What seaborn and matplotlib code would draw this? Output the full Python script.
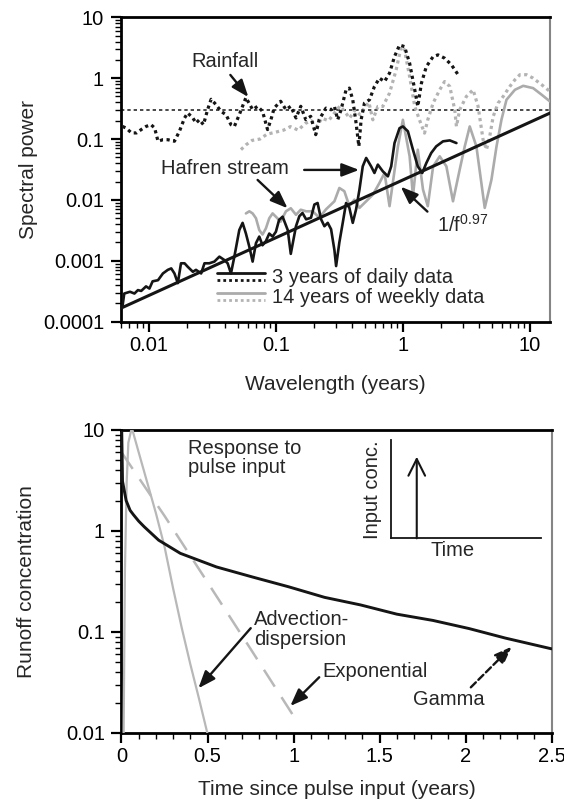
import numpy as np
import pandas as pd
import matplotlib
matplotlib.use("Agg")
import matplotlib.pyplot as plt
import seaborn as sns
from matplotlib.legend_handler import HandlerBase
from matplotlib.lines import Line2D
from matplotlib.ticker import FixedLocator, LogLocator, NullFormatter, MultipleLocator

# ---------------- data : top panel (spectral power vs wavelength) ----------------
rain_daily_wl = [0.0062, 0.0066, 0.0073, 0.0080, 0.0087, 0.0095, 0.0104, 0.0111, 0.0118, 0.0129,
                 0.0141, 0.0159, 0.0174, 0.0191, 0.0202, 0.0222, 0.0235, 0.025, 0.0269, 0.029,
                 0.0309, 0.0338, 0.037, 0.0405, 0.0443, 0.0471, 0.0515, 0.0581, 0.0656, 0.0718,
                 0.0785, 0.086, 0.0914, 0.097, 0.109, 0.12, 0.131, 0.144, 0.157, 0.172,
                 0.188, 0.206, 0.219, 0.248, 0.272, 0.289, 0.307, 0.326, 0.357, 0.379,
                 0.403, 0.428, 0.45, 0.469, 0.498, 0.546, 0.597, 0.654, 0.717, 0.785,
                 0.859, 0.941, 1.03, 1.13, 1.24, 1.31, 1.40, 1.53, 1.73, 1.89,
                 2.13, 2.41, 2.72]
rain_daily_p = [0.161, 0.152, 0.126, 0.126, 0.143, 0.161, 0.172, 0.152, 0.092, 0.0975,
                0.0975, 0.092, 0.134, 0.222, 0.268, 0.222, 0.183, 0.208, 0.172, 0.304,
                0.45, 0.367, 0.285, 0.251, 0.172, 0.161, 0.251, 0.48, 0.304, 0.345,
                0.285, 0.143, 0.208, 0.324, 0.417, 0.304, 0.345, 0.222, 0.345, 0.208,
                0.236, 0.118, 0.208, 0.322, 0.303, 0.343, 0.208, 0.303, 0.644, 0.686,
                0.442, 0.183, 0.076, 0.208, 0.389, 0.442, 0.73, 1.0, 0.88, 1.21,
                2.26, 3.5, 3.3, 1.76, 0.644, 0.343, 0.83, 1.55, 2.26, 2.41,
                2.13, 1.66, 1.14]

rain_weekly_wl = [0.0531, 0.058, 0.065, 0.075, 0.085, 0.1, 0.115, 0.13, 0.15, 0.17,
                  0.19, 0.21, 0.23, 0.26, 0.29, 0.32, 0.35, 0.38, 0.42, 0.46,
                  0.5, 0.54, 0.58, 0.635, 0.695, 0.785, 0.885, 0.97, 1.03, 1.13,
                  1.24, 1.35, 1.48, 1.57, 1.73, 1.95, 2.13, 2.34, 2.56, 2.64,
                  2.8, 3.16, 3.57, 3.91, 4.28, 4.55, 4.83, 5.14, 5.62, 6.16,
                  6.95, 7.62, 8.34, 9.41, 10.6, 12.4, 14.4]
rain_weekly_p = [0.067, 0.08, 0.095, 0.1, 0.12, 0.13, 0.14, 0.16, 0.14, 0.18,
                 0.2, 0.16, 0.22, 0.2, 0.27, 0.35, 0.28, 0.22, 0.3, 0.25,
                 0.33, 0.4, 0.207, 0.343, 0.343, 0.568, 1.37, 3.3, 2.91, 1.06,
                 0.343, 0.207, 0.125, 0.207, 0.389, 0.644, 0.88, 0.73, 0.303, 0.161,
                 0.303, 0.5, 0.644, 0.343, 0.0975, 0.0668, 0.111, 0.235, 0.389, 0.5,
                 0.73, 0.94, 1.14, 1.14, 1.0, 0.778, 0.604]

stream_daily_wl = [0.0062, 0.0064, 0.0071, 0.0077, 0.0082, 0.0087, 0.0095, 0.0101, 0.0107, 0.0118,
                   0.0129, 0.0141, 0.015, 0.0159, 0.0169, 0.0179, 0.0191, 0.0202, 0.0222, 0.0235,
                   0.0258, 0.0274, 0.0299, 0.0328, 0.0359, 0.0393, 0.0417, 0.0443, 0.0471, 0.0515,
                   0.0547, 0.0581, 0.0618, 0.0656, 0.0697, 0.074, 0.0785, 0.0834, 0.0887, 0.0942,
                   0.1, 0.106, 0.113, 0.124, 0.131, 0.144, 0.153, 0.162, 0.173, 0.189,
                   0.201, 0.213, 0.227, 0.241, 0.256, 0.272, 0.289, 0.298, 0.316, 0.336,
                   0.357, 0.379, 0.403, 0.428, 0.455, 0.483, 0.514, 0.562, 0.597, 0.635,
                   0.695, 0.762, 0.809, 0.859, 0.941, 1.0, 1.095, 1.2, 1.31, 1.42,
                   1.53, 1.67, 1.83, 2.07, 2.34, 2.64]
stream_daily_p = [0.00018, 0.00029, 0.00031, 0.00029, 0.00033, 0.00032, 0.00038, 0.00035, 0.00046, 0.00048,
                  0.00062, 0.00071, 0.00075, 0.00062, 0.00043, 0.00091, 0.00091, 0.0008, 0.00066, 0.00071,
                  0.00062, 0.00091, 0.00091, 0.00097, 0.00117, 0.00103, 0.00091, 0.00062, 0.00117, 0.0032,
                  0.0042, 0.0028, 0.0017, 0.00097, 0.00195, 0.0025, 0.0018, 0.0021, 0.0028, 0.0025,
                  0.003, 0.0047, 0.0053, 0.0032, 0.0013, 0.0037, 0.0054, 0.0061, 0.0048, 0.0051,
                  0.0084, 0.0089, 0.0048, 0.0037, 0.0042, 0.0033, 0.0015, 0.00082, 0.002, 0.0042,
                  0.0089, 0.0074, 0.0042, 0.007, 0.0148, 0.0356, 0.0489, 0.0356, 0.0277, 0.038,
                  0.0295, 0.0244, 0.0356, 0.0859, 0.151, 0.161, 0.134, 0.0668, 0.0356, 0.0277,
                  0.0404, 0.0589, 0.0758, 0.0917, 0.095, 0.0859]

stream_weekly_wl = [0.0581, 0.0618, 0.0656, 0.0697, 0.074, 0.0785, 0.0834, 0.0887, 0.0942, 0.1,
                    0.109, 0.12, 0.131, 0.144, 0.157, 0.173, 0.195, 0.22, 0.248, 0.289,
                    0.316, 0.346, 0.379, 0.415, 0.455, 0.514, 0.58, 0.654, 0.717, 0.785,
                    0.914, 1.0, 1.13, 1.2, 1.31, 1.44, 1.57, 1.73, 1.95, 2.2,
                    2.48, 2.8, 3.07, 3.36, 3.79, 4.41, 4.98, 5.46, 5.97, 6.54,
                    7.62, 8.86, 10.6, 12.4, 14.4]
stream_weekly_p = [0.006, 0.0065, 0.006, 0.005, 0.0032, 0.0027, 0.0034, 0.005, 0.006, 0.0053,
                   0.0044, 0.0065, 0.0073, 0.0057, 0.0069, 0.0065, 0.0065, 0.0051, 0.0070, 0.0095,
                   0.0157, 0.0139, 0.0079, 0.0101, 0.0074, 0.0095, 0.0122, 0.019, 0.0277, 0.0079,
                   0.0758, 0.207, 0.052, 0.0115, 0.0668, 0.0148, 0.0079, 0.0356, 0.052, 0.0356,
                   0.0095, 0.0314, 0.0758, 0.161, 0.0758, 0.0074, 0.0215, 0.0758, 0.207, 0.442,
                   0.644, 0.748, 0.686, 0.533, 0.414]

fit_wl = [0.006, 14.4]          # 1/f^0.97 fit line, end points
fit_p = [0.000166, 0.267]
white_noise_level = 0.3

x_ticks_top = [0.01, 0.1, 1, 10]
x_ticklabels_top = ["0.01", "0.1", "1", "10"]
y_ticks_top = [0.0001, 0.001, 0.01, 0.1, 1, 10]
y_ticklabels_top = ["0.0001", "0.001", "0.01", "0.1", "1", "10"]

# ---------------- data : bottom panel (pulse responses) ----------------
gamma_t = [0.0015, 0.006, 0.027, 0.05, 0.069, 0.1, 0.132, 0.216, 0.342, 0.552,
           0.761, 0.971, 1.18, 1.39, 1.6, 1.81, 2.02, 2.23, 2.5]
gamma_c = [9.5, 3.1, 2.0, 1.6, 1.45, 1.25, 1.1, 0.81, 0.6, 0.44,
           0.35, 0.28, 0.22, 0.185, 0.15, 0.13, 0.108, 0.087, 0.068]
exp_t = [0.0, 0.25, 0.5, 0.75, 1.02]
exp_c = [6.0, 1.41, 0.31, 0.068, 0.013]
ade_t = [0.012, 0.02, 0.03, 0.04, 0.06, 0.1, 0.15, 0.2, 0.25, 0.3, 0.35, 0.4, 0.45, 0.5, 0.52]
ade_c = [0.008, 0.4, 3.0, 7.5, 10.5, 6.0, 3.0, 1.5, 0.7, 0.27, 0.11, 0.048, 0.022, 0.0098, 0.0075]

y_ticks_bot = [0.01, 0.1, 1, 10]
y_ticklabels_bot = ["0.01", "0.1", "1", "10"]
x_ticks_bot = [0, 0.5, 1, 1.5, 2, 2.5]
x_ticklabels_bot = ["0", "0.5", "1", "1.5", "2", "2.5"]

pulse_time = 0.17     # inset schematic, axes fraction
pulse_height = 0.83

# ---------------- style ----------------
sns.set_style("ticks")
plt.rcParams["font.family"] = ["Liberation Sans", "DejaVu Sans"]
plt.rcParams["mathtext.fontset"] = "custom"
plt.rcParams["mathtext.rm"] = "Liberation Sans"
plt.rcParams["mathtext.it"] = "Liberation Sans"

FS = 14.5
BLACK = "#151515"
GREY = "#ababab"
GREY_DOT = "#b3b3b3"
GREY_B = "#b8b8b8"
DOT = (0, (1, 1.1))

fig = plt.figure(figsize=(5.64, 8.0), dpi=100)
ax1 = fig.add_axes([0.2140, 0.5979, 0.7612, 0.3805])
ax2 = fig.add_axes([0.2154, 0.0838, 0.7628, 0.3788])


def style_axes(ax):
    for s in ["left", "bottom", "top"]:
        ax.spines[s].set_color("black")
        ax.spines[s].set_linewidth(2.0)
    ax.spines["right"].set_color("#858585")
    ax.spines["right"].set_linewidth(1.5)
    ax.tick_params(which="major", direction="out", length=7, width=1.6,
                   labelsize=FS, pad=3, colors="black")
    ax.tick_params(which="minor", direction="out", length=4, width=1.0, colors="black")
    ax.tick_params(axis="y", which="major", pad=5)
    ax.tick_params(top=False, right=False, which="both")


# ---------------- top panel ----------------
ax1.set_xscale("log")
ax1.set_yscale("log")

ax1.axhline(white_noise_level, color="#2a2a2a", lw=1.2, ls=(0, (2.0, 1.8)), zorder=2)

sns.lineplot(x=rain_weekly_wl, y=rain_weekly_p, ax=ax1, color=GREY_DOT, lw=2.3,
             linestyle=DOT, estimator=None, sort=False, zorder=3)
sns.lineplot(x=rain_daily_wl, y=rain_daily_p, ax=ax1, color=BLACK, lw=2.3,
             linestyle=DOT, estimator=None, sort=False, zorder=4)
sns.lineplot(x=stream_weekly_wl, y=stream_weekly_p, ax=ax1, color=GREY, lw=1.9,
             estimator=None, sort=False, zorder=3)
sns.lineplot(x=stream_daily_wl, y=stream_daily_p, ax=ax1, color=BLACK, lw=1.9,
             estimator=None, sort=False, zorder=5)
sns.lineplot(x=fit_wl, y=fit_p, ax=ax1, color=BLACK, lw=2.2,
             estimator=None, sort=False, zorder=6)

ax1.set_xlim(0.006, 14.4)
ax1.set_ylim(0.0001, 10)
style_axes(ax1)
ax1.xaxis.set_major_locator(FixedLocator(x_ticks_top))
ax1.set_xticklabels(x_ticklabels_top)
ax1.xaxis.set_minor_locator(LogLocator(base=10, subs=np.arange(2, 10)))
ax1.xaxis.set_minor_formatter(NullFormatter())
ax1.yaxis.set_major_locator(FixedLocator(y_ticks_top))
ax1.set_yticklabels(y_ticklabels_top)
ax1.yaxis.set_minor_locator(LogLocator(base=10, subs=np.arange(2, 10)))
ax1.yaxis.set_minor_formatter(NullFormatter())

ax1.set_xlabel("Wavelength (years)", fontsize=FS + 0.5)
ax1.set_ylabel("Spectral power", fontsize=FS + 0.5)
ax1.xaxis.set_label_coords(0.5, -0.175)
ax1.yaxis.set_label_coords(-0.193, 0.5)

arrow_kw = dict(arrowstyle="-|>,head_length=0.65,head_width=0.25", color=BLACK,
                lw=1.7, mutation_scale=16, shrinkA=0, shrinkB=0)

ax1.text(0.040, 1.85, "Rainfall", fontsize=FS, ha="center", va="center")
ax1.annotate("", xy=(0.0607, 0.49), xytext=(0.0438, 1.13), arrowprops=arrow_kw)
ax1.text(0.0397, 0.0332, "Hafren stream", fontsize=FS, ha="center", va="center")
ax1.annotate("", xy=(0.452, 0.0311), xytext=(0.167, 0.0311), arrowprops=arrow_kw)
ax1.annotate("", xy=(0.1236, 0.0073), xytext=(0.0718, 0.0213), arrowprops=arrow_kw)
ax1.text(1.85, 0.0039, r"1/f$^{0.97}$", fontsize=FS, ha="left", va="center")
ax1.annotate("", xy=(0.962, 0.0165), xytext=(1.56, 0.00643), arrowprops=arrow_kw)


class LegendPair:
    def __init__(self, top, bottom):
        self.top = top        # (colour, linestyle)
        self.bottom = bottom


class StackedHandler(HandlerBase):
    def create_artists(self, legend, orig_handle, xdescent, ydescent, width, height,
                       fontsize, trans):
        artists = []
        for (col, ls), frac in ((orig_handle.top, 0.72), (orig_handle.bottom, 0.22)):
            yy = height * frac - ydescent
            ln = Line2D([-xdescent, width - xdescent], [yy, yy], color=col,
                        lw=2.0, linestyle=ls)
            ln.set_transform(trans)
            artists.append(ln)
        return artists


h_daily = LegendPair((BLACK, "-"), (BLACK, DOT))
h_weekly = LegendPair((GREY, "-"), (GREY_DOT, DOT))
leg = ax1.legend([h_daily, h_weekly], ["3 years of daily data", "14 years of weekly data"],
                 handler_map={LegendPair: StackedHandler()}, loc="upper left",
                 bbox_to_anchor=(0.2236, 0.175), frameon=False, fontsize=FS,
                 handlelength=2.4, handleheight=0.7, handletextpad=0.33,
                 labelspacing=0.05, borderpad=0, borderaxespad=0)

# ---------------- bottom panel ----------------
ax2.set_yscale("log")
sns.lineplot(x=ade_t, y=ade_c, ax=ax2, color=GREY_B, lw=1.6, estimator=None, sort=False, zorder=3)
sns.lineplot(x=exp_t, y=exp_c, ax=ax2, color=GREY_B, lw=1.8, linestyle=(0, (8, 5)),
             estimator=None, sort=False, zorder=3)
sns.lineplot(x=gamma_t, y=gamma_c, ax=ax2, color=BLACK, lw=2.1, estimator=None, sort=False, zorder=4)

ax2.set_xlim(0, 2.5)
ax2.set_ylim(0.01, 10)
style_axes(ax2)
ax2.xaxis.set_major_locator(FixedLocator(x_ticks_bot))
ax2.set_xticklabels(x_ticklabels_bot)
ax2.xaxis.set_minor_locator(MultipleLocator(0.1))
ax2.yaxis.set_major_locator(FixedLocator(y_ticks_bot))
ax2.set_yticklabels(y_ticklabels_bot)
ax2.yaxis.set_minor_locator(LogLocator(base=10, subs=np.arange(2, 10)))
ax2.yaxis.set_minor_formatter(NullFormatter())

ax2.set_xlabel("Time since pulse input (years)", fontsize=FS + 0.5)
ax2.set_ylabel("Runoff concentration", fontsize=FS + 0.5)
ax2.xaxis.set_label_coords(0.5, -0.155)
ax2.yaxis.set_label_coords(-0.199, 0.5)

ax2.text(0.384, 5.28, "Response to\npulse input", fontsize=FS, ha="left", va="center",
         linespacing=1.05)
ax2.text(0.77, 0.105, "Advection-\ndispersion", fontsize=FS, ha="left", va="center",
         linespacing=1.05)
ax2.annotate("", xy=(0.447, 0.0277), xytext=(0.751, 0.109), arrowprops=arrow_kw)
ax2.text(1.17, 0.0405, "Exponential", fontsize=FS, ha="left", va="center")
ax2.annotate("", xy=(0.981, 0.0185), xytext=(1.149, 0.0356), arrowprops=arrow_kw)
ax2.text(1.90, 0.0212, "Gamma", fontsize=FS, ha="center", va="center")
gamma_kw = dict(arrow_kw)
gamma_kw["linestyle"] = (0, (3, 1.5))
ax2.annotate("", xy=(2.267, 0.0714), xytext=(2.03, 0.0283), arrowprops=gamma_kw)

# inset schematic
ax_in = fig.add_axes([0.6938, 0.3271, 0.2654, 0.1229])
ax_in.set_xlim(0, 1)
ax_in.set_ylim(0, 1)
ax_in.set_facecolor("none")
for s in ["top", "right"]:
    ax_in.spines[s].set_visible(False)
for s in ["left", "bottom"]:
    ax_in.spines[s].set_color(BLACK)
    ax_in.spines[s].set_linewidth(1.3)
ax_in.set_xticks([])
ax_in.set_yticks([])
ax_in.annotate("", xy=(pulse_time, pulse_height), xytext=(pulse_time, 0.0),
               arrowprops=dict(arrowstyle="->,head_length=0.6,head_width=0.3", color=BLACK,
                               lw=1.5, mutation_scale=20, shrinkA=0, shrinkB=0))
ax_in.set_xlabel("Time", fontsize=FS)
ax_in.set_ylabel("Input conc.", fontsize=FS)
ax_in.xaxis.set_label_coords(0.41, -0.03)
ax_in.yaxis.set_label_coords(-0.06, 0.49)

fig.savefig("out.png", dpi=100)
